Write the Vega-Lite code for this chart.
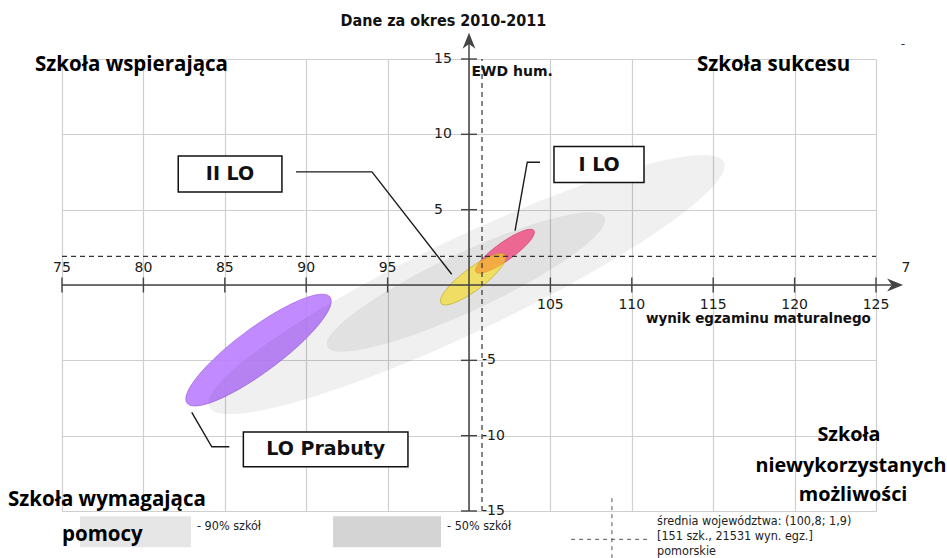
{
  "$schema": "https://vega.github.io/schema/vega-lite/v6.json",
  "width": 814,
  "height": 452,
  "autosize": {"type": "none"},
  "padding": {"left": 62, "top": 59, "right": 71, "bottom": 47},
  "background": "white",
  "config": {
    "view": {"stroke": null},
    "axis": {"grid": true, "gridColor": "#cfcfcf", "gridWidth": 1.2, "labels": false, "ticks": false, "domain": false, "title": null}
  },
  "encoding": {
    "x": {"field": "x", "type": "quantitative", "scale": {"domain": [75, 125], "nice": false, "zero": false}, "axis": {"values": [75, 80, 85, 90, 95, 100, 105, 110, 115, 120, 125]}},
    "y": {"field": "y", "type": "quantitative", "scale": {"domain": [-15, 15], "nice": false, "zero": false}, "axis": {"values": [-15, -10, -5, 0, 5, 10, 15]}}
  },
  "layer": [
    {
      "data": {"values": [{"x": 87.07, "y": -4.32}]},
      "mark": {"type": "point", "filled": true, "shape": "M1,0C1,0.1364 0.5523,0.247 0,0.247C-0.5523,0.247 -1,0.1364 -1,0C-1,-0.1364 -0.5523,-0.247 0,-0.247C0.5523,-0.247 1,-0.1364 1,0Z", "size": 31684, "angle": 323.45, "fill": "#bb7dff", "fillOpacity": 0.9, "stroke": "#9c5fe6", "strokeWidth": 0.8, "strokeOpacity": 0.8}
    },
    {
      "data": {"values": [{"x": 99.85, "y": 0.03}]},
      "mark": {"type": "point", "filled": true, "shape": "M1,0C1,0.0911 0.5523,0.165 0,0.165C-0.5523,0.165 -1,0.0911 -1,0C-1,-0.0911 -0.5523,-0.165 0,-0.165C0.5523,-0.165 1,-0.0911 1,0Z", "size": 324900, "angle": 334.56, "fill": "#000000", "fillOpacity": 0.06, "strokeWidth": 0}
    },
    {
      "data": {"values": [{"x": 99.82, "y": 0.2}]},
      "mark": {"type": "point", "filled": true, "shape": "M1,0C1,0.1049 0.5523,0.19 0,0.19C-0.5523,0.19 -1,0.1049 -1,0C-1,-0.1049 -0.5523,-0.19 0,-0.19C0.5523,-0.19 1,-0.1049 1,0Z", "size": 93636, "angle": 335.0, "fill": "#000000", "fillOpacity": 0.06, "strokeWidth": 0}
    },
    {
      "data": {"values": [{"x": 102.21, "y": 2.24}]},
      "mark": {"type": "point", "filled": true, "shape": "M1,0C1,0.1397 0.5523,0.253 0,0.253C-0.5523,0.253 -1,0.1397 -1,0C-1,-0.1397 -0.5523,-0.253 0,-0.253C0.5523,-0.253 1,-0.1397 1,0Z", "size": 5069, "angle": 324.5, "fill": "#ec6892", "fillOpacity": 1, "stroke": "#d44f7c", "strokeWidth": 0.8}
    },
    {
      "data": {"values": [{"x": 100.25, "y": 0.38}]},
      "mark": {"type": "point", "filled": true, "shape": "M1,0C1,0.1513 0.5523,0.274 0,0.274C-0.5523,0.274 -1,0.1513 -1,0C-1,-0.1513 -0.5523,-0.274 0,-0.274C0.5523,-0.274 1,-0.1513 1,0Z", "size": 6432, "angle": 322.96, "fill": "#f9db10", "fillOpacity": 0.6, "stroke": "#b9a21a", "strokeWidth": 0.9, "strokeOpacity": 0.6}
    },
    {
      "data": {"values": [{"x": 75, "x2": 125, "y": 1.9, "y2": 1.9}, {"x": 100.8, "x2": 100.8, "y": -15, "y2": 15}]},
      "mark": {"type": "rule", "color": "#333333", "strokeWidth": 1.2, "strokeDash": [5, 4]},
      "encoding": {"x2": {"field": "x2"}, "y2": {"field": "y2"}}
    },
    {
      "data": {"values": [{"x": 75, "x2": 126.2, "y": 0, "y2": 0}, {"x": 100, "x2": 100, "y": -15, "y2": 16.0}]},
      "mark": {"type": "rule", "color": "#444444", "strokeWidth": 1.5},
      "encoding": {"x2": {"field": "x2"}, "y2": {"field": "y2"}}
    },
    {
      "data": {"values": [{"x": 126.17, "y": 0}]},
      "mark": {"type": "point", "filled": true, "shape": "M1,0L-1,-0.8L-0.4,0L-1,0.8Z", "size": 256, "fill": "#444444", "fillOpacity": 1, "strokeWidth": 0}
    },
    {
      "data": {"values": [{"x": 100, "y": 16.21}]},
      "mark": {"type": "point", "filled": true, "shape": "M0,-1L-0.8,1L0,0.4L0.8,1Z", "size": 256, "fill": "#444444", "fillOpacity": 1, "strokeWidth": 0}
    },
    {
      "data": {"values": [{"x": 75, "y": 0}, {"x": 80, "y": 0}, {"x": 85, "y": 0}, {"x": 90, "y": 0}, {"x": 95, "y": 0}, {"x": 105, "y": 0}, {"x": 110, "y": 0}, {"x": 115, "y": 0}, {"x": 120, "y": 0}, {"x": 125, "y": 0}]},
      "mark": {"type": "tick", "orient": "vertical", "size": 15, "thickness": 1.4, "color": "#444444", "opacity": 1}
    },
    {
      "data": {"values": [{"x": 100, "y": 15}, {"x": 100, "y": 10}, {"x": 100, "y": 5}, {"x": 100, "y": -5}, {"x": 100, "y": -10}, {"x": 100, "y": -15}]},
      "mark": {"type": "tick", "orient": "horizontal", "size": 16, "thickness": 1.4, "color": "#444444", "opacity": 1}
    },
    {
      "data": {"values": [{"x": 75, "y": 0, "t": "75"}, {"x": 80, "y": 0, "t": "80"}, {"x": 85, "y": 0, "t": "85"}, {"x": 90, "y": 0, "t": "90"}, {"x": 95, "y": 0, "t": "95"}, {"x": 126.84, "y": 0, "t": "7"}]},
      "mark": {"type": "text", "align": "center", "baseline": "alphabetic", "dy": -13, "font": "DejaVu Sans", "fontSize": 14, "color": "#1a1a1a"},
      "encoding": {"text": {"field": "t"}}
    },
    {
      "data": {"values": [{"x": 105, "y": 0, "t": "105"}, {"x": 110, "y": 0, "t": "110"}, {"x": 115, "y": 0, "t": "115"}, {"x": 120, "y": 0, "t": "120"}, {"x": 125, "y": 0, "t": "125"}]},
      "mark": {"type": "text", "align": "center", "baseline": "alphabetic", "dy": 24, "font": "DejaVu Sans", "fontSize": 14, "color": "#1a1a1a"},
      "encoding": {"text": {"field": "t"}}
    },
    {
      "data": {"values": [{"x": 100, "y": 15, "t": "15"}, {"x": 100, "y": 10, "t": "10"}, {"x": 100, "y": 5, "t": "5"}]},
      "mark": {"type": "text", "align": "left", "baseline": "middle", "dx": -35, "font": "DejaVu Sans", "fontSize": 14, "color": "#1a1a1a"},
      "encoding": {"text": {"field": "t"}}
    },
    {
      "data": {"values": [{"x": 100, "y": -5, "t": "-5"}, {"x": 100, "y": -10, "t": "-10"}, {"x": 100, "y": -15, "t": "-15"}]},
      "mark": {"type": "text", "align": "left", "baseline": "middle", "dx": 13, "font": "DejaVu Sans", "fontSize": 14, "color": "#1a1a1a"},
      "encoding": {"text": {"field": "t"}}
    },
    {
      "data": {"values": [
        {"g": "II", "o": 1, "x": 89.37, "y": 7.51}, {"g": "II", "o": 2, "x": 94.04, "y": 7.51}, {"g": "II", "o": 3, "x": 98.94, "y": 0.71},
        {"g": "I", "o": 1, "x": 104.36, "y": 8.15}, {"g": "I", "o": 2, "x": 103.58, "y": 8.15}, {"g": "I", "o": 3, "x": 102.83, "y": 3.61},
        {"g": "P", "o": 1, "x": 85.28, "y": -10.74}, {"g": "P", "o": 2, "x": 84.2, "y": -10.74}, {"g": "P", "o": 3, "x": 82.97, "y": -8.46}
      ]},
      "mark": {"type": "line", "color": "#1a1a1a", "strokeWidth": 1.4},
      "encoding": {"detail": {"field": "g"}, "order": {"field": "o", "type": "quantitative"}}
    },
    {
      "data": {"values": [
        {"x": 82.14, "x2": 88.51, "y": 8.57, "y2": 6.18},
        {"x": 105.22, "x2": 110.75, "y": 9.19, "y2": 6.8},
        {"x": 86.14, "x2": 96.25, "y": -9.75, "y2": -12.07}
      ]},
      "mark": {"type": "rect", "fill": "white", "stroke": "#111111", "strokeWidth": 1.5},
      "encoding": {"x2": {"field": "x2"}, "y2": {"field": "y2"}}
    },
    {
      "data": {"values": [
        {"x": 85.32, "y": 7.38, "t": "II LO"},
        {"x": 107.99, "y": 7.99, "t": "I LO"},
        {"x": 91.2, "y": -10.91, "t": "LO Prabuty"}
      ]},
      "mark": {"type": "text", "align": "center", "baseline": "middle", "font": "DejaVu Sans", "fontSize": 19, "fontWeight": "bold", "color": "#111111"},
      "encoding": {"text": {"field": "t"}}
    },
    {
      "data": {"values": [
        {"k": "90", "x": 76.11, "x2": 82.92, "y": -15.35, "y2": -17.41},
        {"k": "50", "x": 91.65, "x2": 98.28, "y": -15.35, "y2": -17.41}
      ]},
      "mark": {"type": "rect", "strokeWidth": 0},
      "encoding": {"x2": {"field": "x2"}, "y2": {"field": "y2"}, "color": {"field": "k", "type": "nominal", "scale": {"domain": ["90", "50"], "range": ["#e6e6e6", "#d4d4d4"]}, "legend": null}}
    },
    {
      "data": {"values": [{"x": 106.27, "x2": 111.12, "y": -16.88, "y2": -16.88}, {"x": 108.78, "x2": 108.78, "y": -14.15, "y2": -18.14}]},
      "mark": {"type": "rule", "color": "#555555", "strokeWidth": 1, "strokeDash": [4, 4]},
      "encoding": {"x2": {"field": "x2"}, "y2": {"field": "y2"}}
    },
    {
      "data": {"values": [
        {"x": 83.29, "y": -16.01, "t": "- 90% szkół"},
        {"x": 98.65, "y": -16.01, "t": "- 50% szkół"},
        {"x": 111.55, "y": -15.65, "t": "średnia województwa: (100,8; 1,9)"},
        {"x": 111.55, "y": -16.67, "t": "[151 szk., 21531 wyn. egz.]"},
        {"x": 111.55, "y": -17.66, "t": "pomorskie"}
      ]},
      "mark": {"type": "text", "align": "left", "baseline": "middle", "font": "DejaVu Sans Condensed, Liberation Sans Narrow, sans-serif", "fontSize": 12.5, "color": "#222222"},
      "encoding": {"text": {"field": "t"}}
    },
    {
      "data": {"values": [
        {"x": 73.34, "y": 14.22, "t": "Szkoła wspierająca"},
        {"x": 114.0, "y": 14.22, "t": "Szkoła sukcesu"},
        {"x": 71.68, "y": -14.68, "t": "Szkoła wymagająca"},
        {"x": 75.0, "y": -17.01, "t": "pomocy"}
      ]},
      "mark": {"type": "text", "align": "left", "baseline": "alphabetic", "font": "Open Sans", "fontSize": 20.5, "fontWeight": "bold", "color": "#000000"},
      "encoding": {"text": {"field": "t"}}
    },
    {
      "data": {"values": [
        {"x": 123.34, "y": -10.35, "t": "Szkoła"},
        {"x": 123.46, "y": -12.43, "t": "niewykorzystanych"},
        {"x": 123.59, "y": -14.33, "t": "możliwości"}
      ]},
      "mark": {"type": "text", "align": "center", "baseline": "alphabetic", "font": "Open Sans", "fontSize": 19.8, "fontWeight": "bold", "color": "#000000"},
      "encoding": {"text": {"field": "t"}}
    },
    {
      "data": {"values": [{"x": 98.43, "y": 17.21, "t": "Dane za okres 2010-2011"}]},
      "mark": {"type": "text", "align": "center", "baseline": "alphabetic", "font": "DejaVu Sans Condensed, Liberation Sans Narrow, sans-serif", "fontSize": 16, "fontWeight": "bold", "color": "#111111"},
      "encoding": {"text": {"field": "t"}}
    },
    {
      "data": {"values": [{"x": 100.15, "y": 13.89, "t": "EWD hum."}]},
      "mark": {"type": "text", "align": "left", "baseline": "alphabetic", "font": "DejaVu Sans", "fontSize": 14, "fontWeight": "bold", "color": "#111111"},
      "encoding": {"text": {"field": "t"}}
    },
    {
      "data": {"values": [{"x": 110.87, "y": -2.55, "t": "wynik egzaminu maturalnego"}]},
      "mark": {"type": "text", "align": "left", "baseline": "alphabetic", "font": "DejaVu Sans", "fontSize": 13.5, "fontWeight": "bold", "color": "#111111"},
      "encoding": {"text": {"field": "t"}}
    },
    {
      "data": {"values": [{"x": 126.66, "y": 16.01, "t": "-"}]},
      "mark": {"type": "text", "align": "center", "baseline": "middle", "font": "DejaVu Sans", "fontSize": 12, "color": "#333333"},
      "encoding": {"text": {"field": "t"}}
    }
  ]
}
